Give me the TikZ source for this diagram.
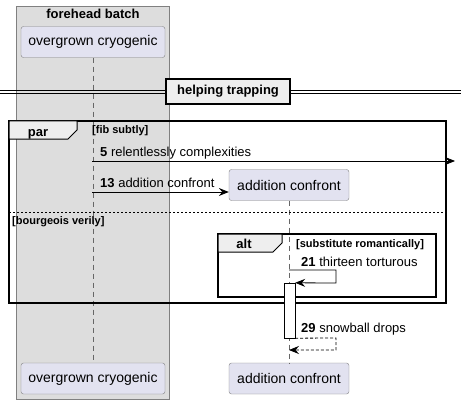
\documentclass[tikz,border=0pt]{standalone}
\usepackage{fontspec}
\setmainfont{Liberation Sans}
\usetikzlibrary{arrows.meta,positioning}
\definecolor{partfill}{HTML}{E2E2F0}
\definecolor{boxgray}{HTML}{DDDDDD}
\definecolor{tabfill}{HTML}{EEEEEE}

\begin{document}
\begin{tikzpicture}[x=1pt,y=-1pt,
    part/.style={draw=gray, fill=partfill, rounded corners=2.5pt, minimum height=31pt, inner sep=0pt, font=\fontsize{14}{16}\selectfont},
    lbl/.style={anchor=base west, inner sep=0pt, font=\fontsize{13}{15}\selectfont},
    guard/.style={anchor=base west, inner sep=0pt, font=\fontsize{11}{13}\selectfont\bfseries},
    frame/.style={draw=black, line width=1.5pt},
    tab/.style={draw=black, line width=1pt, fill=tabfill},
    life/.style={draw=gray!80!black, dash pattern=on 5pt off 4pt},
    msg/.style={-{Stealth[length=10pt,width=8pt,inset=3.5pt]}, line width=0.8pt},
    reply/.style={-{Stealth[length=10pt,width=8pt,inset=3.5pt]}, line width=0.8pt, densely dashed}
]
    \useasboundingbox (0,0) rectangle (461,404);

    % box around the first participant
    \fill[boxgray] (16,6) rectangle (169,399);
    \draw[gray] (16,6) rectangle (169,399);
    \node[anchor=base, font=\fontsize{13}{15}\selectfont\bfseries] (batch) at (93,19) {forehead batch};

    \node[part, minimum width=144pt] (cryoTop) at (93,42) {overgrown cryogenic};
    \node[part, minimum width=144pt] (cryoBot) at (93,378.5) {overgrown cryogenic};
    \node[part, minimum width=120pt] (confTop) at (289,185) {addition confront};
    \node[part, minimum width=120pt] (confBot) at (289,378.5) {addition confront};

    \draw[life] (cryoTop) -- (cryoBot);
    \draw[life] (confTop) -- (confBot);

    % separator
    \draw[line width=0.8pt] (0,90) -- (461,90);
    \draw[line width=0.8pt] (0,93) -- (461,93);
    \node[draw=black, line width=1.5pt, fill=tabfill, minimum width=124pt, minimum height=25pt, inner sep=0pt,
          font=\fontsize{13}{15}\selectfont\bfseries] (sep) at (228,91.5) {helping trapping};

    % par frame
    \draw[frame] (9,121) rectangle (446,303);
    \draw[tab] (9,121) -- (77,121) -- (77,130) -- (68,139) -- (9,139) -- cycle;
    \node[anchor=base, font=\fontsize{13}{15}\selectfont\bfseries] (par) at (38,136) {par};
    \node[guard] (g1) at (92,134) {[fib subtly]};
    \draw[dash pattern=on 2pt off 2pt] (9,212) -- (446,212);
    \node[guard] (g2) at (12,224) {[bourgeois verily]};

    % messages
    \coordinate (s5) at (92,161);
    \coordinate (e5) at (455,161);
    \draw[msg] (s5) -- (e5);
    \node[lbl] (l5) at (100,156) {\textbf{5} relentlessly complexities};

    \coordinate (s13) at (92,192);
    \draw[msg] (s13) -- (confTop.west |- s13);
    \node[lbl] (l13) at (100,187) {\textbf{13} addition confront};

    % alt frame
    \draw[frame] (218,234) rectangle (436,297);
    \draw[tab] (218,234) -- (282,234) -- (282,243) -- (273,252) -- (218,252) -- cycle;
    \node[anchor=base, font=\fontsize{13}{15}\selectfont\bfseries] (alt) at (244,248) {alt};
    \node[guard] (g3) at (296,247) {[substitute romantically]};

    % activation
    \node[draw=black, fill=white, minimum width=11pt, minimum height=55pt, inner sep=0pt] (act) at (289.5,310.5) {};

    \coordinate (s21) at (289,270);
    \draw[msg] (s21) -- (336,270) -- (336,283) -- (act.north east);
    \node[lbl] (l21) at (301,266) {\textbf{21} thirteen torturous};

    \coordinate (e29) at (289,350);
    \draw[reply] (act.south east) -- (336,338) -- (336,350) -- (e29);
    \node[lbl] (l29) at (301,332) {\textbf{29} snowball drops};
\end{tikzpicture}
\end{document}
